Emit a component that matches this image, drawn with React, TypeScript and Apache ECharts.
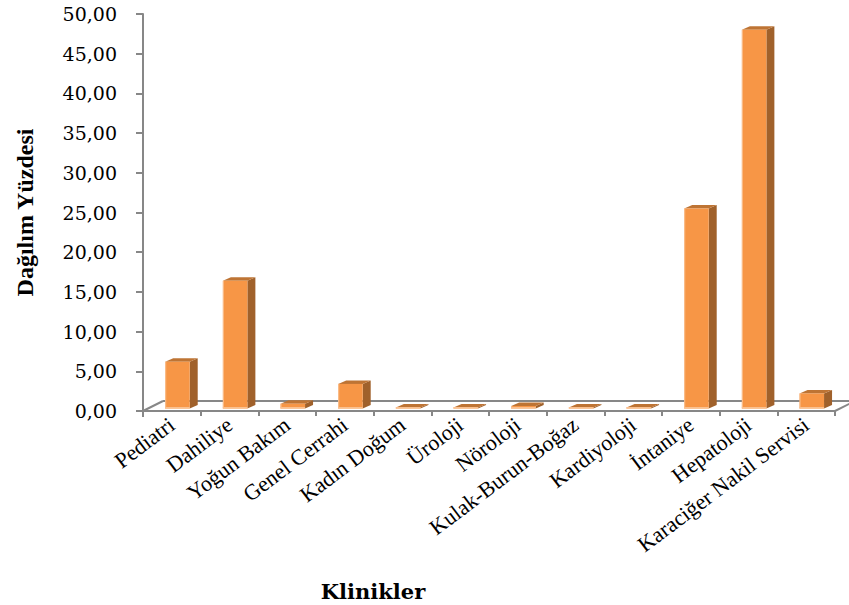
import React, { useEffect, useRef } from "react";
import * as echarts from "echarts";

const categories = [
  "Pediatri",
  "Dahiliye",
  "Yoğun Bakım",
  "Genel Cerrahi",
  "Kadın Doğum",
  "Üroloji",
  "Nöroloji",
  "Kulak-Burun-Boğaz",
  "Kardiyoloji",
  "İntaniye",
  "Hepatoloji",
  "Karaciğer Nakil Servisi",
];
const values = [5.9, 16.1, 0.6, 3.1, 0.1, 0.1, 0.3, 0.1, 0.1, 25.2, 47.7, 1.9];
const yMin = 0;
const yMax = 50;
const yStep = 5;
const yTitle = "Dağılım Yüzdesi";
const xTitle = "Klinikler";

const AXIS = "#878787";
const FRONT = "#F79646";
const SIDE = "#A0612B";
const TOP = "#BE7434";
const EDGE = "#FAC08F";

export default function App() {
  const ref = useRef<HTMLDivElement>(null);
  useEffect(() => {
    if (!ref.current) return;
    const chart = echarts.init(ref.current, null, { renderer: "svg" });
    const barData = values.map((v, i) => [i, v]);
    chart.setOption({
      animation: false,
      backgroundColor: "#ffffff",
      grid: { left: 143, right: 14, top: 14, bottom: 194 },
      xAxis: {
        type: "category",
        data: categories,
        axisLine: { show: true, lineStyle: { color: AXIS, width: 2 } },
        axisTick: { show: true, length: 5, lineStyle: { color: AXIS, width: 2 } },
        axisLabel: {
          interval: 0,
          rotate: 37,
          margin: 11,
          color: "#000",
          fontFamily: "Liberation Serif",
          fontSize: 22,
        },
        splitLine: { show: false },
      },
      yAxis: {
        type: "value",
        min: yMin,
        max: yMax,
        interval: yStep,
        name: yTitle,
        nameLocation: "middle",
        nameGap: 106,
        nameTextStyle: {
          color: "#000",
          fontFamily: "Liberation Serif",
          fontWeight: "bold",
          fontSize: 24,
        },
        axisLine: { show: true, lineStyle: { color: AXIS, width: 2 } },
        axisTick: { show: true, length: 7, lineStyle: { color: AXIS, width: 2 } },
        axisLabel: {
          margin: 26,
          color: "#000",
          fontFamily: "DejaVu Serif",
          fontSize: 19,
          formatter: (v: number) => v.toFixed(2).replace(".", ","),
        },
        splitLine: { show: false },
      },
      graphic: [
        {
          type: "text",
          x: 373,
          y: 591,
          style: {
            text: xTitle,
            align: "center",
            verticalAlign: "middle",
            fill: "#000",
            font: "bold 21px 'DejaVu Serif'",
          },
        },
      ],
      series: [
        {
          type: "custom",
          z: 1,
          silent: true,
          data: [[0, 0]],
          encode: { x: 0, y: 1 },
          renderItem: (params: any, api: any) => {
            const cs = params.coordSys;
            const yb = cs.y + cs.height;
            const xl = cs.x;
            const xr = cs.x + cs.width;
            const ddx = 20;
            const ddy = -10;
            const ls = { stroke: AXIS, lineWidth: 2, fill: "none" };
            return {
              type: "group",
              children: [
                { type: "line", shape: { x1: xl + ddx, y1: yb + ddy, x2: xr + ddx, y2: yb + ddy }, style: ls },
                { type: "line", shape: { x1: xl, y1: yb, x2: xl + ddx, y2: yb + ddy }, style: ls },
                { type: "line", shape: { x1: xr, y1: yb, x2: xr + ddx, y2: yb + ddy }, style: ls },
                { type: "line", shape: { x1: xl, y1: yb, x2: xl, y2: yb + 6 }, style: ls },
              ],
            };
          },
        },
        {
          type: "custom",
          z: 3,
          data: barData,
          encode: { x: 0, y: 1 },
          renderItem: (params: any, api: any) => {
            const idx = api.value(0);
            const v = api.value(1);
            const base = api.coord([idx, 0]);
            const top = api.coord([idx, v]);
            const bw = api.size([1, 0])[0];
            const x0 = base[0] - bw * 0.115;
            const w = bw * 0.425;
            const yb = base[1] - 2.5;
            const yt = Math.min(top[1] - 2.5, yb - 1);
            const dx = 8;
            const dy = -3.5;
            return {
              type: "group",
              children: [
                {
                  type: "polygon",
                  shape: { points: [[x0 + w, yb], [x0 + w + dx, yb + dy], [x0 + w + dx, yt + dy], [x0 + w, yt]] },
                  style: { fill: SIDE },
                },
                {
                  type: "polygon",
                  shape: { points: [[x0, yt], [x0 + dx, yt + dy], [x0 + w + dx, yt + dy], [x0 + w, yt]] },
                  style: { fill: TOP },
                },
                {
                  type: "rect",
                  shape: { x: x0, y: yt, width: w, height: yb - yt },
                  style: { fill: FRONT },
                },
                {
                  type: "rect",
                  shape: { x: x0, y: yb - 1.5, width: w, height: 1.5 },
                  style: { fill: EDGE },
                },
                {
                  type: "rect",
                  shape: { x: x0, y: yt, width: 1, height: yb - yt },
                  style: { fill: EDGE },
                },
              ],
            };
          },
        },
      ],
    });
    return () => chart.dispose();
  }, []);
  return <div ref={ref} style={{ width: 849, height: 605, position: "absolute", left: 0, top: 0 }} />;
}
